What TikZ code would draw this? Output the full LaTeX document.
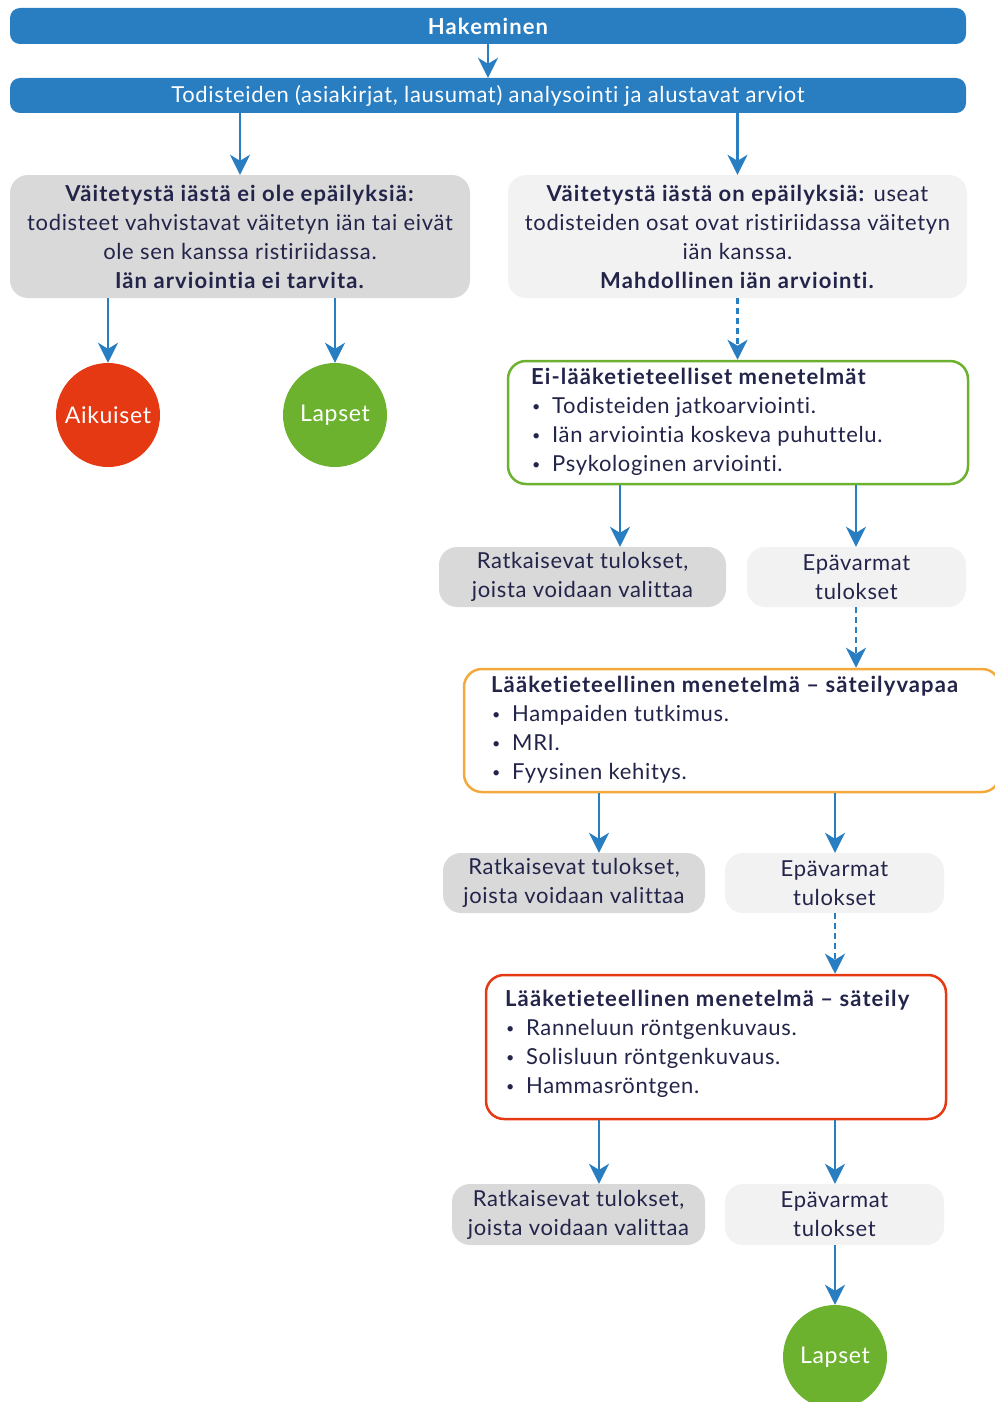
\documentclass[tikz,border=0pt]{standalone}
\usepackage{fontspec}
\setmainfont{Lato}[LetterSpace=3, Ligatures=NoCommon, BoldFeatures={LetterSpace=5}]
\usetikzlibrary{arrows.meta}
\definecolor{mblue}{RGB}{41,125,193}
\definecolor{mgray}{RGB}{217,217,217}
\definecolor{mlight}{RGB}{242,242,242}
\definecolor{mtext}{RGB}{35,36,74}
\definecolor{mred}{RGB}{229,57,20}
\definecolor{mgreen}{RGB}{108,178,47}
\definecolor{morange}{RGB}{244,169,61}
\newcommand{\bitem}{\makebox[21pt][l]{\hspace{1pt}\raisebox{2.5pt}{\scalebox{0.65}{•}}}}
\begin{document}
\begin{tikzpicture}[x=1pt,y=-1pt,
  font=\fontsize{22}{29}\selectfont,
  arr/.style={draw=mblue, line width=2.5pt, -{Stealth[length=20pt,width=20pt,inset=6pt]}},
  darr/.style={arr, dash pattern=on 6pt off 4pt},
  bar/.style={fill=mblue, rounded corners=10pt, text=white, inner sep=0pt, minimum width=956pt},
  gbox/.style={fill=mgray, rounded corners=18pt, text=mtext, inner sep=0pt, align=center},
  lbox/.style={fill=mlight, rounded corners=18pt, text=mtext, inner sep=0pt, align=center},
  obox/.style={draw=#1, line width=2.5pt, fill=white, rounded corners=18pt, inner sep=0pt},
  btext/.style={anchor=west, align=left, text=mtext, inner sep=0pt},
  circ/.style={circle, fill=#1, text=white, minimum size=104pt, inner sep=0pt, font=\fontsize{23}{27}\selectfont}
]
\useasboundingbox (0,0) rectangle (994,1402);

\node[bar, minimum height=36pt, font=\fontsize{22}{24}\selectfont\bfseries] (hak) at (488,26) {Hakeminen};
\node[bar, minimum height=35pt, font=\fontsize{22}{24}\selectfont] (tod) at (488,95.5) {Todisteiden (asiakirjat, lausumat) analysointi ja alustavat arviot};

\node[gbox, minimum width=460pt, minimum height=123pt] (lb) at (240,236.5)
 {\textbf{Väitetystä iästä ei ole epäilyksiä:}\\ todisteet vahvistavat väitetyn iän tai eivät\\ ole sen kanssa ristiriidassa.\\ \textbf{Iän arviointia ei tarvita.}};
\node[lbox, minimum width=459pt, minimum height=123pt] (rb) at (737.5,236.5)
 {\textbf{Väitetystä iästä on epäilyksiä:} useat\\ todisteiden osat ovat ristiriidassa väitetyn\\ iän kanssa.\\ \textbf{Mahdollinen iän arviointi.}};

\node[circ=mred] (aik) at (108,415) {Aikuiset};
\node[circ=mgreen] (lap1) at (335,415) {Lapset};

\node[obox=mgreen, minimum width=460pt, minimum height=123pt] (gm) at (738,422.5) {};
\node[btext] (gmt) at (531,422) {\textbf{Ei-lääketieteelliset menetelmät}\\ \bitem Todisteiden jatkoarviointi.\\ \bitem Iän arviointia koskeva puhuttelu.\\ \bitem Psykologinen arviointi.};

\node[gbox, minimum width=287pt, minimum height=60pt] (r1) at (582.5,577) {Ratkaisevat tulokset,\\ joista voidaan valittaa};
\node[lbox, minimum width=219pt, minimum height=60pt] (e1) at (856.5,577) {Epävarmat\\ tulokset};

\node[obox=morange, minimum width=536pt, minimum height=123pt] (om) at (732,730.5) {};
\node[btext] (omt) at (491,730) {\textbf{Lääketieteellinen menetelmä – säteilyvapaa}\\ \bitem Hampaiden tutkimus.\\ \bitem MRI.\\ \bitem Fyysinen kehitys.};

\node[gbox, minimum width=262pt, minimum height=60pt] (r2) at (574,883) {Ratkaisevat tulokset,\\ joista voidaan valittaa};
\node[lbox, minimum width=219pt, minimum height=60pt] (e2) at (834.5,883) {Epävarmat\\ tulokset};

\node[obox=mred, minimum width=460pt, minimum height=144pt] (rm) at (716,1047) {};
\node[btext] (rmt) at (505,1044) {\textbf{Lääketieteellinen menetelmä – säteily}\\ \bitem Ranneluun röntgenkuvaus.\\ \bitem Solisluun röntgenkuvaus.\\ \bitem Hammasröntgen.};

\node[gbox, minimum width=253pt, minimum height=61pt] (r3) at (578.5,1214.5) {Ratkaisevat tulokset,\\ joista voidaan valittaa};
\node[lbox, minimum width=219pt, minimum height=61pt] (e3) at (834.5,1214.5) {Epävarmat\\ tulokset};

\node[circ=mgreen] (lap2) at (835,1357) {Lapset};

\coordinate (xa) at (620,0);
\coordinate (xb) at (856,0);
\coordinate (xc) at (599,0);
\coordinate (xd) at (835,0);

\draw[arr] (hak.south) -- (tod.north);
\draw[arr] (tod.south -| lb.north) -- (lb.north);
\draw[arr] (tod.south -| rb.north) -- (rb.north);
\draw[arr] (lb.south -| aik.north) -- (aik.north);
\draw[arr] (lb.south -| lap1.north) -- (lap1.north);
\draw[darr] (rb.south) -- (rb.south |- gm.north);
\draw[arr] (gm.south -| xa) -- (r1.north -| xa);
\draw[arr] (gm.south -| xb) -- (e1.north -| xb);
\draw[darr] (e1.south -| xb) -- (om.north -| xb);
\draw[arr] (om.south -| xc) -- (r2.north -| xc);
\draw[arr] (om.south -| xd) -- (e2.north -| xd);
\draw[darr] (e2.south -| xd) -- (rm.north -| xd);
\draw[arr] (rm.south -| xc) -- (r3.north -| xc);
\draw[arr] (rm.south -| xd) -- (e3.north -| xd);
\draw[arr] (e3.south -| xd) -- (lap2.north);
\end{tikzpicture}
\end{document}
